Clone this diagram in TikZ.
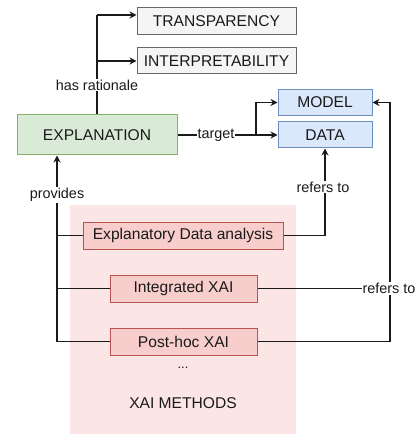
\documentclass[tikz,border=0pt]{standalone}
\usepackage{fontspec}
\setmainfont{Liberation Sans}
\usetikzlibrary{arrows.meta}
\definecolor{greyfill}{HTML}{F5F5F5}
\definecolor{greyline}{HTML}{666666}
\definecolor{greenfill}{HTML}{D9EAD6}
\definecolor{greenline}{HTML}{82B366}
\definecolor{bluefill}{HTML}{DAE8FC}
\definecolor{blueline}{HTML}{6C8EBF}
\definecolor{redfill}{HTML}{F8CECC}
\definecolor{redline}{HTML}{B85450}
\definecolor{groupfill}{HTML}{FBE6E5}
\definecolor{ink}{HTML}{1A1A1A}
\tikzset{
  box/.style={draw, line width=1pt, inner sep=0pt, text=ink,
    font=\fontsize{15.6}{18}\selectfont},
  greybox/.style={box, draw=greyline, fill=greyfill},
  greenbox/.style={box, draw=greenline, fill=greenfill},
  bluebox/.style={box, draw=blueline, fill=bluefill},
  redbox/.style={box, draw=redline, fill=redfill},
  link/.style={draw=ink, line width=1.1pt},
  arr/.style={link, -{Stealth[length=7pt,width=7pt]}},
  tag/.style={fill=white, inner sep=1pt, text=ink,
    font=\fontsize{14.4}{16}\selectfont},
}
\begin{document}
\begin{tikzpicture}[x=1pt,y=-1pt]
\useasboundingbox (0,0) rectangle (415,435);
\fill[white] (0,0) rectangle (415,435);

% group of XAI methods
\fill[groupfill] (70,205) rectangle (296,434);
\node[font=\fontsize{13}{15}\selectfont, text=ink] (dots) at (183,368) {...};
\node[font=\fontsize{15.6}{18}\selectfont, text=ink] (grp) at (183,403) {XAI METHODS};

% boxes
\node[greybox, minimum width=159pt, minimum height=27pt] (trans) at (216.5,21) {TRANSPARENCY};
\node[greybox, minimum width=159pt, minimum height=26pt] (interp) at (216.5,61) {INTERPRETABILITY};
\node[greenbox, minimum width=160pt, minimum height=40pt] (expl) at (97,135) {EXPLANATION};
\node[bluebox, minimum width=94pt, minimum height=26pt] (model) at (325,102.5) {MODEL};
\node[bluebox, minimum width=94pt, minimum height=26pt] (data) at (325,135) {DATA};
\node[redbox, minimum width=200pt, minimum height=27pt] (eda) at (183,235.5) {Explanatory Data analysis};
\node[redbox, minimum width=147pt, minimum height=27pt] (integ) at (183.5,288.5) {Integrated XAI};
\node[redbox, minimum width=147pt, minimum height=27pt] (post) at (183.5,341.5) {Post-hoc XAI};

% has rationale
\coordinate (rtop) at (97,15);
\draw[link] (expl.north) -- (rtop);
\draw[arr] (rtop) -- (trans.west |- rtop);
\draw[arr] (97,61) -- (interp.west);
\node[tag] (hasr) at (97,85) {has rationale};

% target
\coordinate (tsplit) at (256,135);
\draw[arr] (expl.east) -- (data.west);
\draw[arr] (tsplit) |- (model.west);
\node[tag] (targ) at (216,135) {target};

% refers to (data)
\draw[arr] (eda.east) -| (data.south);
\node[tag] (ref1) at (323,187) {refers to};

% provides
\coordinate (pbot) at (57,341.5);
\draw[arr] (post.west) -- (pbot) -- (expl.south -| pbot);
\draw[link] (eda.west) -- (eda.west -| pbot);
\draw[link] (integ.west) -- (integ.west -| pbot);
\node[tag] (prov) at (57,195) {provides};

% refers to (model)
\coordinate (rright) at (390,341.5);
\draw[arr] (post.east) -- (rright) |- (model.east);
\draw[link] (integ.east) -- (integ.east -| rright);
\node[tag] (ref2) at (389,288.5) {refers to};
\end{tikzpicture}
\end{document}
